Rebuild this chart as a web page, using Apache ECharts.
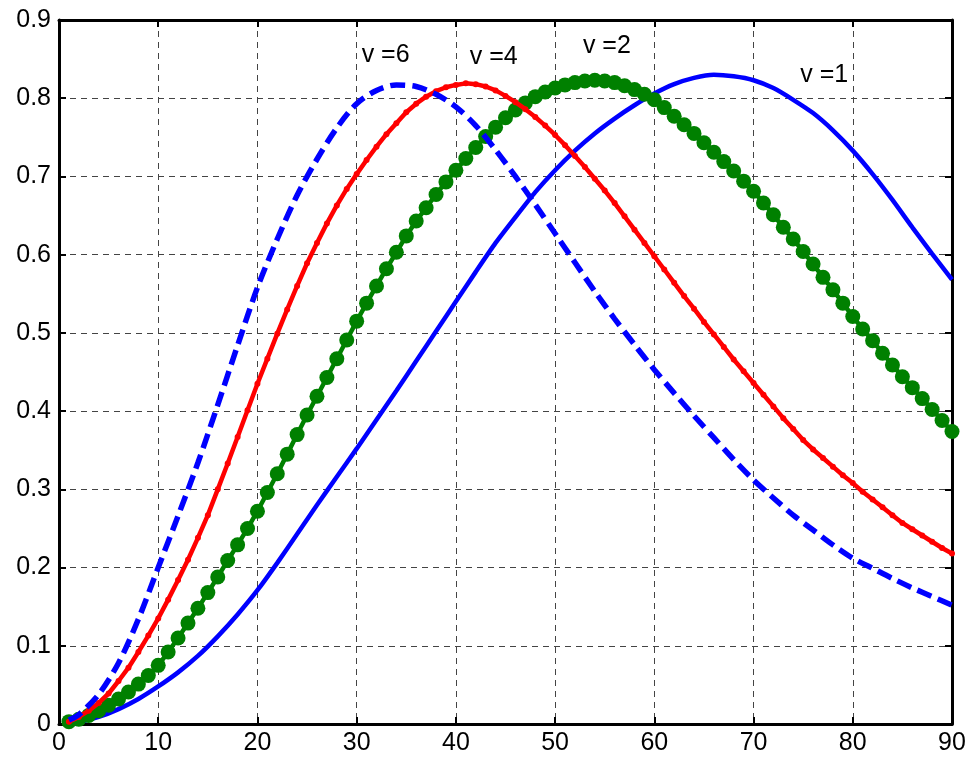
<!DOCTYPE html>
<html>
<head>
<meta charset="utf-8">
<style>
  html, body { margin: 0; padding: 0; background: #fff; }
  #chart-container { width: 969px; height: 761px; }
</style>
<script src="https://cdn.jsdelivr.net/npm/echarts@6/dist/echarts.min.js"></script>
</head>
<body>
<div id="chart-container"></div>
<script>
// sampled positions (v=2 and v=4 have a marker at every integer step)
var xFine = Array.from({ length: 90 }, (_, i) => i + 1);
var xCoarse = [1, 2, 4, 6, 8, 10, 12, 14, 16, 18, 20, 22, 24, 26, 28, 30, 32, 34, 36, 38, 40,
  42, 44, 46, 48, 50, 52, 54, 56, 58, 60, 62, 64, 66, 68, 70, 72, 74, 76, 78, 80,
  82, 84, 86, 88, 90];

// v = 2 (green, big dots)
var v2Values = [
  0.003, 0.006, 0.011, 0.017, 0.024, 0.032, 0.041, 0.051, 0.062, 0.075,
  0.092, 0.110, 0.129, 0.148, 0.168, 0.188, 0.209, 0.229, 0.250, 0.272,
  0.296, 0.320, 0.345, 0.370, 0.395, 0.419, 0.443, 0.467, 0.491, 0.515,
  0.538, 0.560, 0.582, 0.603, 0.624, 0.643, 0.660, 0.677, 0.693, 0.708,
  0.723, 0.737, 0.751, 0.763, 0.775, 0.785, 0.794, 0.802, 0.808, 0.813,
  0.817, 0.820, 0.822, 0.823, 0.822, 0.820, 0.816, 0.811, 0.805, 0.798,
  0.788, 0.777, 0.766, 0.755, 0.743, 0.731, 0.719, 0.707, 0.694, 0.681,
  0.666, 0.651, 0.635, 0.620, 0.604, 0.588, 0.571, 0.555, 0.538, 0.521,
  0.505, 0.490, 0.474, 0.459, 0.444, 0.430, 0.416, 0.402, 0.388, 0.374
];

// v = 4 (red, small dots)
var v4Values = [
  0.003, 0.009, 0.017, 0.027, 0.039, 0.055, 0.072, 0.092, 0.113, 0.135,
  0.159, 0.184, 0.210, 0.238, 0.267, 0.300, 0.333, 0.367, 0.401, 0.435,
  0.467, 0.499, 0.530, 0.560, 0.589, 0.615, 0.640, 0.663, 0.684, 0.703,
  0.721, 0.738, 0.754, 0.768, 0.782, 0.793, 0.802, 0.809, 0.814, 0.817,
  0.819, 0.818, 0.815, 0.810, 0.803, 0.795, 0.786, 0.776, 0.765, 0.753,
  0.740, 0.726, 0.712, 0.697, 0.682, 0.666, 0.649, 0.632, 0.615, 0.598,
  0.581, 0.564, 0.547, 0.531, 0.514, 0.498, 0.482, 0.466, 0.451, 0.436,
  0.421, 0.406, 0.391, 0.377, 0.363, 0.351, 0.340, 0.329, 0.318, 0.308,
  0.297, 0.287, 0.277, 0.267, 0.257, 0.249, 0.241, 0.233, 0.225, 0.218
];

// v = 6 (blue dashed)
var v6Values = [0.005, 0.012, 0.038, 0.078, 0.134, 0.200, 0.266, 0.334, 0.408, 0.484, 0.558,
  0.620, 0.676, 0.722, 0.762, 0.793, 0.810, 0.817, 0.815, 0.805, 0.789,
  0.765, 0.734, 0.700, 0.664, 0.627, 0.590, 0.553, 0.518, 0.485, 0.453,
  0.423, 0.394, 0.366, 0.338, 0.312, 0.289, 0.267, 0.248, 0.229, 0.212,
  0.199, 0.186, 0.174, 0.163, 0.152];

// v = 1 (blue solid)
var v1Values = [0.000, 0.002, 0.009, 0.019, 0.032, 0.048, 0.066, 0.087, 0.112, 0.140, 0.171,
  0.206, 0.243, 0.280, 0.316, 0.352, 0.389, 0.426, 0.464, 0.502, 0.540,
  0.578, 0.615, 0.648, 0.680, 0.708, 0.733, 0.755, 0.774, 0.791, 0.806,
  0.818, 0.826, 0.830, 0.828, 0.823, 0.813, 0.798, 0.781, 0.759, 0.733,
  0.703, 0.670, 0.635, 0.601, 0.568];

var xTicks = { min: 0, max: 90, interval: 10 };
var yTicks = { min: 0, max: 0.9, interval: 0.1 };

function pairs(xs, ys) {
  return xs.map((x, i) => [x, ys[i]]);
}

var dom = document.getElementById('chart-container');
var myChart = echarts.init(dom, null, { renderer: 'canvas' });

var fontFamily = '"Liberation Sans", Arial, Helvetica, sans-serif';
var boxLine = { show: true, onZero: false, lineStyle: { color: '#000', width: 3 } };
var inTick = { show: true, inside: true, length: 7, lineStyle: { color: '#000', width: 2 } };
var gridLine = { show: true, lineStyle: { color: '#444', width: 1, type: [6, 5] } };

function tag(text, x, y) {
  return {
    symbol: 'circle',
    symbolSize: 0,
    data: [{ coord: [x, y] }],
    label: {
      show: true,
      position: 'right',
      distance: 0,
      formatter: text,
      color: '#000',
      fontSize: 25,
      fontFamily: fontFamily
    },
    silent: true
  };
}

var option = {
  animation: false,
  backgroundColor: '#fff',
  grid: { left: 59, right: 17, top: 20, bottom: 37 },
  xAxis: [
    {
      type: 'value',
      min: xTicks.min, max: xTicks.max, interval: xTicks.interval,
      axisLine: boxLine,
      axisTick: inTick,
      splitLine: gridLine,
      axisLabel: { color: '#000', fontSize: 25, fontFamily: fontFamily, margin: 7 }
    },
    {
      type: 'value', position: 'top',
      min: xTicks.min, max: xTicks.max, interval: xTicks.interval,
      axisLine: boxLine,
      axisTick: inTick,
      splitLine: { show: false },
      axisLabel: { show: false }
    }
  ],
  yAxis: [
    {
      type: 'value',
      min: yTicks.min, max: yTicks.max, interval: yTicks.interval,
      axisLine: boxLine,
      axisTick: inTick,
      splitLine: gridLine,
      axisLabel: {
        color: '#000', fontSize: 25, fontFamily: fontFamily, margin: 8,
        formatter: v => (v === 0 ? '0' : v.toFixed(1))
      }
    },
    {
      type: 'value', position: 'right',
      min: yTicks.min, max: yTicks.max, interval: yTicks.interval,
      axisLine: boxLine,
      axisTick: inTick,
      splitLine: { show: false },
      axisLabel: { show: false }
    }
  ],
  series: [
    {
      name: 'v=1',
      type: 'line',
      data: pairs(xCoarse, v1Values),
      smooth: 0.2,
      showSymbol: false,
      lineStyle: { color: '#0000ff', width: 4.5 },
      itemStyle: { color: '#0000ff' },
      markPoint: tag('v =1', 74.7, 0.83),
      z: 2
    },
    {
      name: 'v=2',
      type: 'line',
      data: pairs(xFine, v2Values),
      showSymbol: true,
      showAllSymbol: true,
      symbol: 'circle',
      symbolSize: 15,
      lineStyle: { color: '#008000', width: 4.5 },
      itemStyle: { color: '#008000' },
      markPoint: tag('v =2', 52.8, 0.866),
      z: 3
    },
    {
      name: 'v=4',
      type: 'line',
      data: pairs(xFine, v4Values),
      showSymbol: true,
      showAllSymbol: true,
      symbol: 'circle',
      symbolSize: 6,
      lineStyle: { color: '#ff0000', width: 4.5 },
      itemStyle: { color: '#ff0000' },
      markPoint: tag('v =4', 41.4, 0.853),
      z: 4
    },
    {
      name: 'v=6',
      type: 'line',
      data: pairs(xCoarse, v6Values),
      smooth: 0.3,
      showSymbol: false,
      lineStyle: { color: '#0000ff', width: 5.5, type: [15, 7] },
      itemStyle: { color: '#0000ff' },
      markPoint: tag('v =6', 30.5, 0.855),
      z: 5
    }
  ]
};

myChart.setOption(option);
window.addEventListener('resize', myChart.resize);
</script>
</body>
</html>
